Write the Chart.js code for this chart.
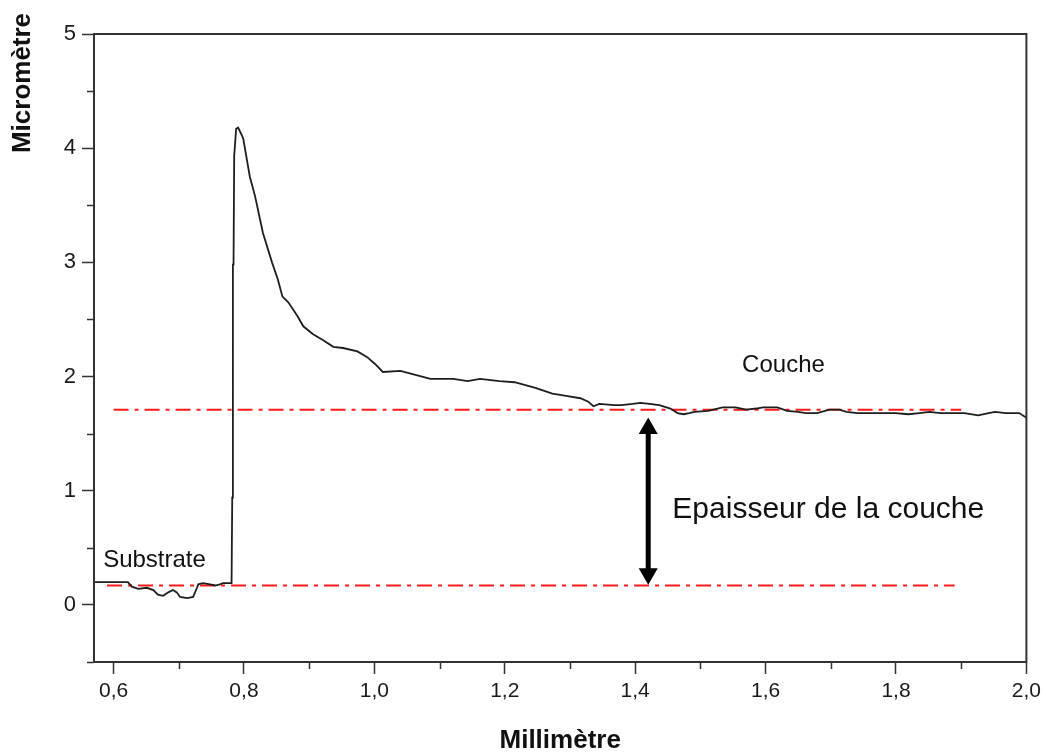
<!DOCTYPE html>
<html>
<head>
<meta charset="utf-8">
<script src="https://cdn.jsdelivr.net/npm/chart.js@4/dist/chart.umd.min.js"></script>
<style>
  html, body { margin: 0; padding: 0; background: #fff; }
</style>
</head>
<body>
<canvas id="profile" width="1046" height="756"></canvas>
<script>
// Profilometer trace: height (micrometre) against position (millimetre)
const positionMm = [
  0.570, 0.574, 0.622, 0.628, 0.638, 0.651, 0.661, 0.668, 0.676, 0.684,
  0.691, 0.697, 0.702, 0.713, 0.722, 0.728, 0.730, 0.737, 0.748, 0.756,
  0.763, 0.768, 0.781, 0.782, 0.783, 0.783, 0.784, 0.785, 0.788, 0.791,
  0.797, 0.799, 0.809, 0.817, 0.829, 0.843, 0.852, 0.859, 0.868, 0.882,
  0.891, 0.906, 0.921, 0.937, 0.952, 0.974, 0.989, 1.001, 1.013, 1.040,
  1.060, 1.086, 1.121, 1.143, 1.162, 1.192, 1.215, 1.247, 1.273, 1.294,
  1.316, 1.328, 1.336, 1.345, 1.368, 1.379, 1.396, 1.408, 1.422, 1.437,
  1.454, 1.465, 1.474, 1.483, 1.491, 1.512, 1.534, 1.554, 1.570, 1.586,
  1.596, 1.618, 1.633, 1.650, 1.662, 1.679, 1.698, 1.713, 1.724, 1.741,
  1.778, 1.799, 1.819, 1.836, 1.851, 1.868, 1.883, 1.905, 1.926, 1.942,
  1.952, 1.968, 1.989, 2.000
];
const heightUm = [
  0.20, 0.20, 0.20, 0.16, 0.14, 0.15, 0.13, 0.09, 0.08, 0.11,
  0.13, 0.11, 0.07, 0.06, 0.07, 0.15, 0.18, 0.19, 0.18, 0.17,
  0.18, 0.19, 0.19, 0.94, 0.94, 2.98, 2.98, 3.93, 4.17, 4.18,
  4.11, 4.08, 3.75, 3.58, 3.26, 3.00, 2.85, 2.70, 2.65, 2.53,
  2.44, 2.37, 2.32, 2.26, 2.25, 2.22, 2.17, 2.11, 2.04, 2.05,
  2.02, 1.98, 1.98, 1.96, 1.98, 1.96, 1.95, 1.90, 1.85, 1.83,
  1.81, 1.78, 1.74, 1.76, 1.75, 1.75, 1.76, 1.77, 1.76, 1.75,
  1.72, 1.68, 1.67, 1.68, 1.69, 1.70, 1.73, 1.73, 1.71, 1.72,
  1.73, 1.73, 1.70, 1.69, 1.68, 1.68, 1.71, 1.71, 1.69, 1.68,
  1.68, 1.68, 1.67, 1.68, 1.69, 1.68, 1.68, 1.68, 1.66, 1.68,
  1.69, 1.68, 1.68, 1.64
];

// reference levels (dash-dot red lines)
const layerLevelX = [0.60, 1.90];
const layerLevelY = [1.71, 1.71];
const substrateLevelX = [0.59, 1.89];
const substrateLevelY = [0.17, 0.17];

// thickness arrow
const arrowX = [1.42, 1.42];
const arrowY = [0.272, 1.544];

// text notes
const noteTexts = ['Substrate', 'Couche', 'Epaisseur de la couche'];
const noteX = [0.584, 1.564, 1.457];
const noteY = [0.39, 2.10, 0.83];

// minor tick values
const xMinorTicks = [0.7, 0.9, 1.1, 1.3, 1.5, 1.7, 1.9];
const yMinorTicks = [-0.5, 0.5, 1.5, 2.5, 3.5, 4.5];

const FONT = "'Liberation Sans', Arial, sans-serif";
const AXIS_COLOR = '#333';

function toPoints(xs, ys) {
  return xs.map((x, i) => ({ x: x, y: ys[i] }));
}

const decorations = {
  id: 'decorations',
  afterDraw(chart) {
    const { ctx, chartArea, scales } = chart;
    const xs = scales.x, ys = scales.y;
    ctx.save();

    // closed frame
    ctx.strokeStyle = AXIS_COLOR;
    ctx.lineWidth = 2;
    ctx.strokeRect(chartArea.left, chartArea.top, chartArea.right - chartArea.left, chartArea.bottom - chartArea.top);

    // minor ticks (outward)
    ctx.lineWidth = 1.5;
    ctx.beginPath();
    xMinorTicks.forEach(v => {
      const px = Math.round(xs.getPixelForValue(v)) + 0.5;
      ctx.moveTo(px, chartArea.bottom);
      ctx.lineTo(px, chartArea.bottom + 7);
    });
    yMinorTicks.forEach(v => {
      const py = Math.round(ys.getPixelForValue(v)) + 0.5;
      ctx.moveTo(chartArea.left, py);
      ctx.lineTo(chartArea.left - 7, py);
    });
    ctx.stroke();

    // notes
    ctx.fillStyle = '#111';
    ctx.textBaseline = 'middle';
    ctx.textAlign = 'left';
    noteTexts.forEach((t, i) => {
      ctx.font = i === 2 ? '30px ' + FONT : '24px ' + FONT;
      ctx.fillText(t, xs.getPixelForValue(noteX[i]), ys.getPixelForValue(noteY[i]));
    });

    // y axis title, sits near the top like the original export
    ctx.font = 'bold 26px ' + FONT;
    ctx.textAlign = 'center';
    ctx.translate(chartArea.left - 71, chartArea.top + 49);
    ctx.rotate(-Math.PI / 2);
    ctx.fillText('Micromètre', 0, 0);
    ctx.restore();
  }
};

new Chart(document.getElementById('profile'), {
  type: 'scatter',
  data: {
    datasets: [
      {
        data: toPoints(positionMm, heightUm),
        showLine: true,
        borderColor: '#1e1e1e',
        borderWidth: 1.8,
        pointRadius: 0,
        tension: 0
      },
      {
        data: toPoints(layerLevelX, layerLevelY),
        showLine: true,
        borderColor: '#ff1a1a',
        borderWidth: 2,
        borderDash: [15, 6, 4, 6],
        pointRadius: 0
      },
      {
        data: toPoints(substrateLevelX, substrateLevelY),
        showLine: true,
        borderColor: '#ff1a1a',
        borderWidth: 2,
        borderDash: [15, 6, 4, 6],
        pointRadius: 0
      },
      {
        data: toPoints(arrowX, arrowY),
        showLine: true,
        borderColor: '#000',
        backgroundColor: '#000',
        borderWidth: 5,
        pointStyle: 'triangle',
        pointRadius: 11,
        pointBorderWidth: 0,
        pointRotation: [180, 0]
      }
    ]
  },
  options: {
    responsive: false,
    animation: false,
    layout: { padding: { top: 34, right: 19, left: 0, bottom: 0 } },
    plugins: {
      legend: { display: false },
      tooltip: { enabled: false }
    },
    scales: {
      x: {
        type: 'linear',
        min: 0.57,
        max: 2.0,
        afterFit: scale => { scale.height = 94; },
        border: { color: AXIS_COLOR, width: 2 },
        grid: { drawOnChartArea: false, tickLength: 12, tickColor: AXIS_COLOR, tickWidth: 1.5 },
        ticks: {
          stepSize: 0.2,
          includeBounds: false,
          padding: 5,
          color: '#1a1a1a',
          font: { family: FONT, size: 21 },
          callback: v => v.toFixed(1).replace('.', ',')
        },
        title: {
          display: true,
          text: 'Millimètre',
          color: '#111',
          font: { family: FONT, size: 26, weight: 'bold' },
          padding: { top: 6, bottom: 0 }
        }
      },
      y: {
        min: -0.5,
        max: 5,
        afterFit: scale => { scale.width = 94; },
        border: { color: AXIS_COLOR, width: 2 },
        grid: { drawOnChartArea: false, tickLength: 12, tickColor: AXIS_COLOR, tickWidth: 1.5 },
        ticks: {
          stepSize: 1,
          includeBounds: false,
          padding: 6,
          color: '#1a1a1a',
          font: { family: FONT, size: 22 },
          callback: v => String(v)
        }
      }
    }
  },
  plugins: [decorations]
});
</script>
</body>
</html>
